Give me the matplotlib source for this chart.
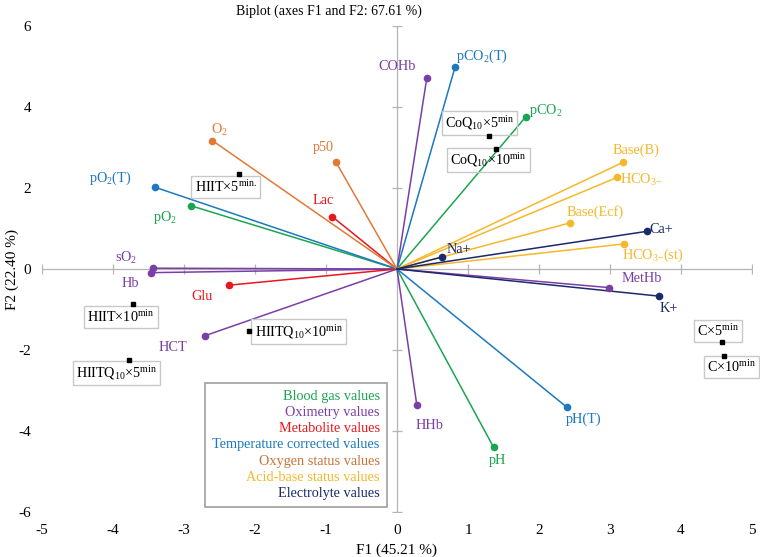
import numpy as np
import matplotlib
matplotlib.use('Agg')
import matplotlib.pyplot as plt
from matplotlib.lines import Line2D

plt.rcParams['font.family'] = ['Liberation Serif', 'DejaVu Serif']
plt.rcParams['mathtext.fontset'] = 'custom'
plt.rcParams['mathtext.rm'] = 'Liberation Serif'
plt.rcParams['mathtext.it'] = 'Liberation Serif:italic'
plt.rcParams['mathtext.bf'] = 'Liberation Serif:bold'
plt.rcParams['axes.unicode_minus'] = False

# groups of variables
groups = ['Blood gas values', 'Oximetry values', 'Metabolite values',
          'Temperature corrected values', 'Oxygen status values',
          'Acid-base status values', 'Electrolyte values']
group_colors = ['#1aa650', '#7a3fa6', '#e8171c', '#1c79bf', '#e07a36',
                '#f5b82b', '#1a2a6b']
legend_colors = ['#1aa650', '#7a3fa6', '#e8171c', '#1c79bf', '#c8733a',
                 '#f5b82b', '#1a2a6b']

# variables (loadings)
var_names = ['pO$_2$', 'pCO$_2$', 'pH',
             'sO$_2$', 'Hb', 'HCT', 'COHb', 'MetHb', 'HHb',
             'Lac', 'Glu',
             'pO$_2$(T)', 'pCO$_2$(T)', 'pH(T)',
             'O$_2$', 'p50',
             'Base(B)', 'HCO$_{3\\mathrm{-}}$', 'Base(Ecf)', 'HCO$_{3\\mathrm{-}}$(st)',
             'Ca+', 'Na+', 'K+']
var_group = [0, 0, 0,
             1, 1, 1, 1, 1, 1,
             2, 2,
             3, 3, 3,
             4, 4,
             5, 5, 5, 5,
             6, 6, 6]
var_f1 = [-2.90, 1.81, 1.36,
          -3.43, -3.46, -2.71, 0.42, 2.99, 0.28,
          -0.91, -2.37,
          -3.41, 0.82, 2.39,
          -2.60, -0.86,
          3.19, 3.10, 2.44, 3.20,
          3.52, 0.64, 3.69]
var_f2 = [1.56, 3.75, -4.40,
          0.02, -0.09, -1.65, 4.72, -0.46, -3.37,
          1.29, -0.40,
          2.02, 5.00, -3.41,
          3.17, 2.64,
          2.64, 2.26, 1.14, 0.62,
          0.93, 0.30, -0.67]

# observations (scores)
obs_names = ['HIIT×5$^{\\mathrm{min.}}$', 'HIIT×10$^{\\mathrm{min}}$',
             'HIITQ$_{10}$×5$^{\\mathrm{min}}$', 'HIITQ$_{10}$×10$^{\\mathrm{min}}$',
             'CoQ$_{10}$×5$^{\\mathrm{min}}$', 'CoQ$_{10}$×10$^{\\mathrm{min}}$',
             'C×5$^{\\mathrm{min}}$', 'C×10$^{\\mathrm{min}}$']
obs_f1 = [-2.23, -3.72, -3.78, -2.09, 1.29, 1.40, 4.58, 4.60]
obs_f2 = [2.35, -0.86, -2.25, -1.52, 3.28, 2.97, -1.80, -2.14]

title = 'Biplot (axes F1 and F2: 67.61 %)'
xlab = 'F1 (45.21 %)'
ylab = 'F2 (22.40 %)'
xticks = np.arange(-5, 6, 1)
yticks = np.arange(-6, 7, 2)

# label offsets in pixels (dx, dy up)
var_off = [(-26, -12), (20, 7), (4, -13),
           (-27, 10), (-21, -11), (-32, -12), (-30, 11), (32, 9), (13, -20),
           (-9, 16), (-27, -11),
           (-45, 9), (27, 10), (17, -12),
           (7, 11), (-13, 15),
           (13, 12), (24, -2), (25, 11), (29, -11),
           (14, 2), (16, 7), (10, -12)]
obs_off = [(-13, -13), (-12, -13), (-12, -13), (50, -1),
           (-9, 13), (-8, -11), (-4, 11), (8, -11)]

px = 72 / 100.0

fig = plt.figure(figsize=(7.6, 5.57), dpi=100)
ax = fig.add_axes([42 / 760, 1 - 512 / 557, 710 / 760, 486 / 557])
ax.set_xlim(-5, 5)
ax.set_ylim(-6, 6)
for s in ax.spines.values():
    s.set_visible(False)

axis_col = '#b4b4b4'
ax.axhline(0, color=axis_col, lw=0.9, zorder=1)
ax.axvline(0, color=axis_col, lw=0.9, zorder=1)
ax.plot(xticks, np.zeros(len(xticks)), ls='none', marker='|', ms=7, mew=0.9, color=axis_col, zorder=1)
ax.plot(np.zeros(len(yticks)), yticks, ls='none', marker='_', ms=7, mew=0.9, color=axis_col, zorder=1)

ax.set_xticks(xticks)
ax.set_yticks(yticks)
ax.tick_params(length=0, labelsize=11)
ax.tick_params(axis='x', pad=9)
ax.tick_params(axis='y', pad=8)
ax.set_xlabel(xlab, fontsize=11, labelpad=4)
ax.set_ylabel(ylab, fontsize=11)
ax.yaxis.set_label_coords(-0.033, 0.5)
ax.set_title(title, x=0.404, pad=8, fontsize=10)

for i, name in enumerate(var_names):
    c = group_colors[var_group[i]]
    ax.plot([0, var_f1[i]], [0, var_f2[i]], color=c, lw=1.1, zorder=2)
    ax.plot(var_f1[i], var_f2[i], 'o', color=c, ms=4.5, zorder=3)
    dx, dy = var_off[i]
    ax.annotate(name, (var_f1[i], var_f2[i]), xytext=(dx * px, dy * px),
                textcoords='offset points', ha='center', va='center',
                color=c, fontsize=10.3)

ax.plot(obs_f1, obs_f2, 's', color='black', ms=3.5, zorder=4)
for i, name in enumerate(obs_names):
    dx, dy = obs_off[i]
    ax.annotate(name, (obs_f1[i], obs_f2[i]), xytext=(dx * px, dy * px),
                textcoords='offset points', ha='center', va='center',
                color='black', fontsize=10.2,
                bbox=dict(boxstyle='square,pad=0.22', fc='none', ec='#c8c8c8', lw=1))

handles = [Line2D([], [], ls='none') for g in groups]
leg = ax.legend(handles, groups, loc='lower right',
                bbox_to_anchor=((387 - 42) / 710, (512 - 507) / 486),
                markerfirst=False, handlelength=0, handletextpad=0,
                labelcolor=legend_colors, fontsize=10.3, frameon=True,
                fancybox=False, edgecolor='#a0a0a0', framealpha=1,
                borderpad=0.5, labelspacing=0.22, borderaxespad=0)
leg.get_frame().set_linewidth(1.2)

fig.savefig('out.png', dpi=100)
